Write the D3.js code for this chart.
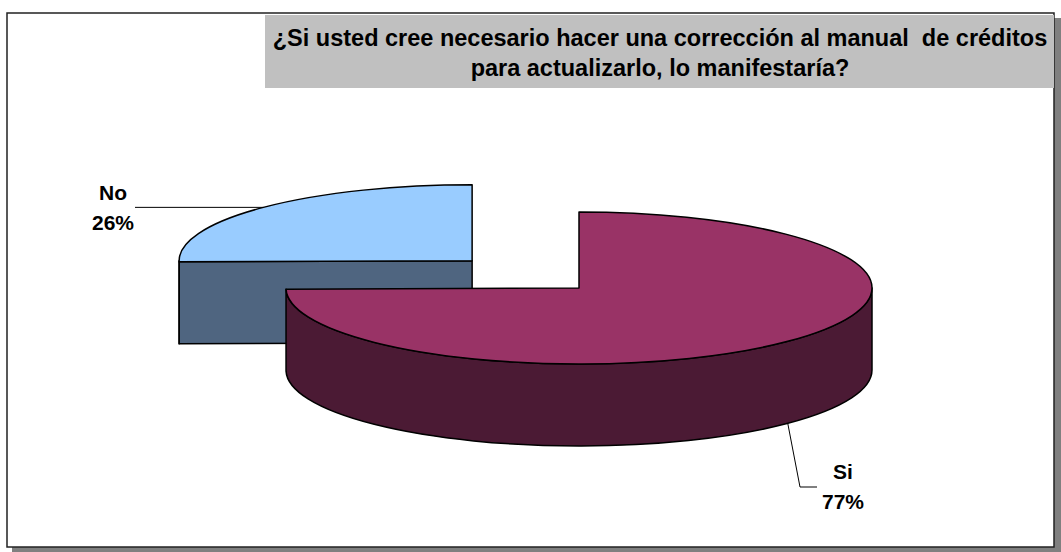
<!DOCTYPE html>
<html>
<head>
<meta charset="utf-8">
<script src="https://cdn.jsdelivr.net/npm/d3@7"></script>
<style>
    body { margin: 0; background: #ffffff; }
    text { font-family: Arial, "Liberation Sans", sans-serif; font-weight: bold; fill: #000000; }
</style>
</head>
<body>
<div class="chart"></div>
<script>
//chart data
const categories = ["Si", "No"];
const values = [77, 26];
const titleLines = [
    "¿Si usted cree necesario hacer una corrección al manual  de créditos",
    "para actualizarlo, lo manifestaría?"
];

const createVisualization = () => {
    const width = 1061, height = 552;

    //pie geometry (flattened ellipse plus a side wall)
    const cx = 579, cy = 288;
    const rx = 293, ry = 76, depth = 82;
    const explode = {"No": 150};

    const topColours = {"Si": "#993366", "No": "#99ccff"};
    const sideColours = {"Si": "#4b1a34", "No": "#4f6580"};

    //where the labels sit
    const labelPos = {
        "Si": {x: 843, y: 479, line: [[800, 487], [817, 487]]},
        "No": {x: 113, y: 200, line: [[135, null]]}
    };

    const svg = d3.select(".chart").append("svg")
        .attr("width", width)
        .attr("height", height);

    //frame with its drop shadow
    svg.append("rect")
        .attr("x", 12).attr("y", 18)
        .attr("width", 1049).attr("height", 534)
        .attr("fill", "#808080");

    svg.append("rect")
        .attr("x", 7).attr("y", 13)
        .attr("width", 1047).attr("height", 534)
        .attr("fill", "#ffffff")
        .attr("stroke", "#222222")
        .attr("stroke-width", 1.5);

    //title box
    svg.append("rect")
        .attr("x", 265).attr("y", 15)
        .attr("width", 789).attr("height", 73)
        .attr("fill", "#c0c0c0");

    svg.selectAll(".title")
        .data(titleLines).enter()
        .append("text")
        .attr("class", "title")
        .attr("x", 660)
        .attr("y", (d, i) => 46 + i * 30)
        .attr("text-anchor", "middle")
        .attr("font-size", "23.5px")
        .style("white-space", "pre")
        .text(d => d);

    const data = categories.map((c, i) => ({name: c, value: values[i]}));

    const pie = d3.pie()
        .sort(null)
        .value(d => d.value);

    const slices = pie(data).map((s) => {
        const mid = (s.startAngle + s.endAngle) / 2;
        const e = explode[s.data.name] || 0;
        s.mid = mid;
        s.cx = cx + e * Math.sin(mid);
        s.cy = cy - e * Math.cos(mid) * ry / rx;
        return s;
    });

    //point on the rim of a slice, angle measured clockwise from 12 o'clock
    const pt = (s, a, dz = 0) => [s.cx + rx * Math.sin(a), s.cy - ry * Math.cos(a) + dz];

    const topPath = (s) => {
        const p0 = pt(s, s.startAngle), p1 = pt(s, s.endAngle);
        const large = s.endAngle - s.startAngle > Math.PI ? 1 : 0;
        return `M${s.cx},${s.cy} L${p0} A${rx},${ry} 0 ${large} 1 ${p1} Z`;
    };

    const sidePath = (s) => {
        const a0 = Math.max(s.startAngle, Math.PI / 2);
        const a1 = Math.min(s.endAngle, Math.PI * 1.5);
        if (a1 <= a0) return null;
        const p0 = pt(s, a0), p1 = pt(s, a1);
        const q0 = pt(s, a0, depth), q1 = pt(s, a1, depth);
        return `M${p0} A${rx},${ry} 0 0 1 ${p1} L${q1} A${rx},${ry} 0 0 0 ${q0} Z`;
    };

    //flat cut faces, only the ones turned towards the viewer
    const cutPaths = (s) => {
        const faces = [];
        if (Math.sin(s.startAngle) < -1e-6) faces.push(s.startAngle);
        if (Math.sin(s.endAngle) > 1e-6) faces.push(s.endAngle);
        return faces.map((a) => {
            const p = pt(s, a), q = pt(s, a, depth);
            return `M${s.cx},${s.cy} L${p} L${q} L${s.cx},${s.cy + depth} Z`;
        });
    };

    //paint the slices from back to front
    const ordered = slices.slice().sort((a, b) => Math.cos(b.mid) - Math.cos(a.mid));

    ordered.forEach((s) => {
        const g = svg.append("g").attr("class", "slice");
        const name = s.data.name;

        cutPaths(s).forEach((d) => {
            g.append("path")
                .attr("d", d)
                .attr("fill", sideColours[name])
                .attr("stroke", "#000000")
                .attr("stroke-width", 1.5)
                .attr("stroke-linejoin", "round");
        });

        const side = sidePath(s);
        if (side) {
            g.append("path")
                .attr("d", side)
                .attr("fill", sideColours[name])
                .attr("stroke", "#000000")
                .attr("stroke-width", 1.5)
                .attr("stroke-linejoin", "round");
        }

        g.append("path")
            .attr("d", topPath(s))
            .attr("fill", topColours[name])
            .attr("stroke", "#000000")
            .attr("stroke-width", 1.5)
            .attr("stroke-linejoin", "round");
    });

    //leader lines and labels
    slices.forEach((s) => {
        const name = s.data.name;
        const lp = labelPos[name];
        let pts;
        if (name === "Si") {
            pts = [pt(s, s.mid, depth)].concat(lp.line);
        } else {
            const r = pt(s, s.mid);
            pts = [r, [lp.line[0][0], r[1]]];
        }

        svg.append("path")
            .attr("d", d3.line()(pts))
            .attr("fill", "none")
            .attr("stroke", "#000000")
            .attr("stroke-width", 1);

        svg.append("text")
            .attr("x", lp.x)
            .attr("y", lp.y)
            .attr("text-anchor", "middle")
            .attr("font-size", "21px")
            .text(name);

        svg.append("text")
            .attr("x", lp.x)
            .attr("y", lp.y + 30)
            .attr("text-anchor", "middle")
            .attr("font-size", "21px")
            .text(`${s.data.value}%`);
    });
};

createVisualization();
</script>
</body>
</html>
